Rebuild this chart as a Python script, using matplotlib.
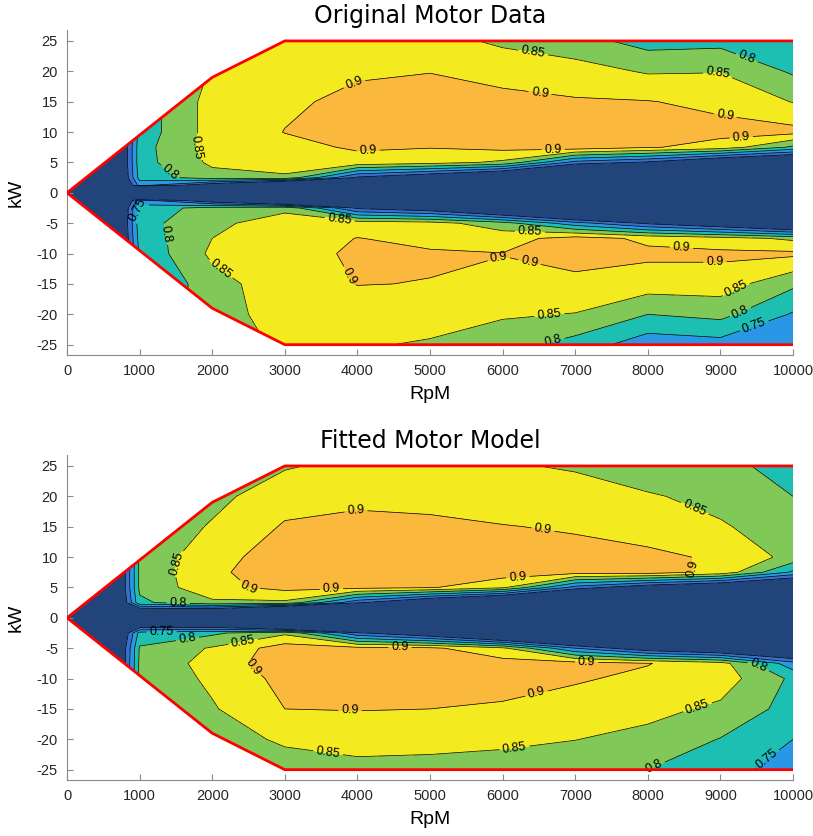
import numpy as np
import matplotlib
matplotlib.use("Agg")
import matplotlib.pyplot as plt
from matplotlib.patches import Polygon

plt.rcParams['font.family'] = ['Liberation Sans', 'DejaVu Sans']
plt.rcParams['axes.unicode_minus'] = False

# ---- grid ----------------------------------------------------------------
rpm = [0, 1000, 2000, 3000, 4000, 5000, 6000, 7000, 8000, 9000, 10000]
kw = [-25, -20, -15, -10, -7.5, -5, -2.5, -1.25, 0, 1.25, 2.5, 5, 7.5, 10, 15, 20, 25]

# efficiency tables: one row per kW level (bottom to top), one column per rpm
eff_measured = [
    [0, 0.74, 0.82, 0.86, 0.855, 0.845, 0.82, 0.78, 0.72, 0.73, 0.72],    # -25
    [0, 0.74, 0.83, 0.87, 0.88, 0.87, 0.856, 0.848, 0.80, 0.815, 0.745],  # -20
    [0, 0.74, 0.83, 0.88, 0.901, 0.899, 0.89, 0.89, 0.875, 0.875, 0.81], # -15
    [0, 0.76, 0.86, 0.885, 0.906, 0.904, 0.901, 0.915, 0.91, 0.91, 0.91], # -10
    [0, 0.77, 0.85, 0.88, 0.901, 0.89, 0.88, 0.92, 0.89, 0.87, 0.84],     # -7.5
    [0, 0.78, 0.84, 0.87, 0.88, 0.87, 0.82, 0.72, 0.64, 0.58, 0.50],      # -5
    [0, 0.77, 0.82, 0.84, 0.64, 0.60, 0.50, 0.40, 0.35, 0.30, 0.25],      # -2.5
    [0, 0.72, 0.60, 0.45, 0.35, 0.30, 0.25, 0.22, 0.20, 0.18, 0.15],      # -1.25
    [0, 0, 0, 0, 0, 0, 0, 0, 0, 0, 0],                                    # 0
    [0, 0.72, 0.60, 0.45, 0.35, 0.30, 0.25, 0.22, 0.20, 0.18, 0.15],      # 1.25
    [0, 0.77, 0.83, 0.84, 0.64, 0.58, 0.50, 0.40, 0.35, 0.30, 0.25],      # 2.5
    [0, 0.78, 0.86, 0.88, 0.885, 0.87, 0.84, 0.68, 0.64, 0.55, 0.50],     # 5
    [0, 0.78, 0.87, 0.888, 0.905, 0.902, 0.915, 0.93, 0.905, 0.88, 0.79], # 7.5
    [0, 0.77, 0.87, 0.901, 0.915, 0.915, 0.915, 0.915, 0.91, 0.915, 0.915], # 10
    [0, 0.77, 0.87, 0.893, 0.91, 0.915, 0.912, 0.905, 0.902, 0.888, 0.848], # 15
    [0, 0.77, 0.855, 0.88, 0.895, 0.899, 0.885, 0.87, 0.845, 0.848, 0.793], # 20
    [0, 0.77, 0.84, 0.87, 0.88, 0.87, 0.84, 0.82, 0.78, 0.785, 0.76],     # 25
]

eff_fitted = [
    [0, 0.80, 0.82, 0.835, 0.835, 0.835, 0.83, 0.82, 0.80, 0.775, 0.72],  # -25
    [0, 0.80, 0.835, 0.855, 0.87, 0.865, 0.86, 0.851, 0.835, 0.798, 0.75], # -20
    [0, 0.81, 0.845, 0.90, 0.902, 0.90, 0.895, 0.88, 0.865, 0.84, 0.78],  # -15
    [0, 0.81, 0.86, 0.915, 0.925, 0.92, 0.915, 0.905, 0.89, 0.875, 0.79], # -10
    [0, 0.81, 0.87, 0.93, 0.93, 0.925, 0.92, 0.92, 0.902, 0.87, 0.72],    # -7.5
    [0, 0.805, 0.855, 0.925, 0.915, 0.91, 0.86, 0.70, 0.60, 0.55, 0.50],  # -5
    [0, 0.77, 0.79, 0.84, 0.66, 0.58, 0.45, 0.38, 0.33, 0.30, 0.25],      # -2.5
    [0, 0.60, 0.60, 0.45, 0.35, 0.30, 0.25, 0.22, 0.20, 0.18, 0.15],      # -1.25
    [0, 0, 0, 0, 0, 0, 0, 0, 0, 0, 0],                                    # 0
    [0, 0.60, 0.60, 0.45, 0.35, 0.30, 0.25, 0.22, 0.20, 0.18, 0.15],      # 1.25
    [0, 0.79, 0.84, 0.84, 0.66, 0.55, 0.45, 0.38, 0.33, 0.30, 0.25],      # 2.5
    [0, 0.81, 0.885, 0.915, 0.915, 0.905, 0.86, 0.68, 0.60, 0.55, 0.50],  # 5
    [0, 0.81, 0.893, 0.92, 0.925, 0.925, 0.925, 0.92, 0.925, 0.885, 0.74], # 7.5
    [0, 0.81, 0.885, 0.92, 0.925, 0.925, 0.92, 0.915, 0.915, 0.89, 0.835], # 10
    [0, 0.81, 0.855, 0.905, 0.912, 0.91, 0.902, 0.895, 0.87, 0.855, 0.825], # 15
    [0, 0.80, 0.835, 0.88, 0.89, 0.885, 0.875, 0.87, 0.855, 0.835, 0.80], # 20
    [0, 0.80, 0.82, 0.845, 0.865, 0.86, 0.855, 0.845, 0.82, 0.815, 0.78], # 25
]

# operating envelope (upper half, mirrored for generating)
env_rpm = [0, 2000, 3000, 10000]
env_kw = [0, 19, 25, 25]

levels = [0.65, 0.70, 0.75, 0.80, 0.85, 0.90]
band_colors = ['#21457a', '#3a6fc9', '#2a97e6', '#1cbfb2',
               '#80c857', '#f3ea20', '#fab93c']
labelled_levels = [0.75, 0.80, 0.85, 0.90]

labels_measured = {
    0.90: [(3945, 18.3), (4150, 6.6), (6515, 16.4), (6700, 6.2), (9065, 12.7),
           (9290, 8.9), (3920, -13.5), (5940, -10.4), (6350, -12.5),
           (8466, -8.6), (8926, -10.9)],
    0.85: [(1580, 7.6), (6420, 23.2), (8970, 19.1), (2107, -12.7),
           (3760, -3.8), (6377, -6.0), (6653, -21.0), (9243, -16.5)],
    0.80: [(1281, 1.6), (9362, 22.2), (1327, -6.9), (6700, -24.5), (9270, -19.5)],
    0.75: [(1005, -2.8), (9450, -21.4)],
}

labels_fitted = {
    0.90: [(2452, 4.0), (3990, 16.9), (3646, 3.6), (6560, 14.9), (6217, 5.7),
           (8765, 8.3), (2497, -8.9), (4587, -4.2), (3898, -14.8),
           (7158, -6.9), (6470, -12.5)],
    0.85: [(1534, 8.9), (8627, 17.6), (2405, -2.6), (3600, -21.9),
           (6170, -21.9), (8673, -14.3)],
    0.80: [(1534, 3.1), (1671, -4.2), (9477, -8.9), (8076, -24.2)],
    0.75: [(1304, -4.0), (9660, -23.4)],
}


def fmt(v):
    return f'{v:g}'


def draw_map(ax, table, title, label_spots):
    X, Y = np.meshgrid(rpm, kw)
    Z = np.array(table, dtype=float)

    up_x = list(env_rpm)
    up_y = list(env_kw)
    outline = list(zip(up_x, up_y)) + list(zip(up_x[::-1], [-v for v in up_y[::-1]]))
    clip = Polygon(outline, closed=True, transform=ax.transData)

    cf = ax.contourf(X, Y, Z, levels=[-1.0] + levels + [2.0], colors=band_colors)
    cf.set_clip_path(clip)

    plain = [lv for lv in levels if lv not in labelled_levels]
    cs = ax.contour(X, Y, Z, levels=plain, colors='black', linewidths=0.5)
    cs.set_clip_path(clip)
    for lev in labelled_levels:
        cl = ax.contour(X, Y, Z, levels=[lev], colors='black', linewidths=0.5)
        cl.set_clip_path(clip)
        spots = label_spots.get(lev, [])
        if spots:
            ax.clabel(cl, inline=True, inline_spacing=3,
                      fontsize=9, fmt=fmt, manual=spots)

    ax.plot(up_x, up_y, color='#ff0000', lw=2.0, solid_capstyle='round', zorder=5)
    ax.plot(up_x, [-v for v in up_y], color='#ff0000', lw=2.0,
            solid_capstyle='round', zorder=5)

    ax.set_xlim(0, 10000)
    ax.set_ylim(-26.7, 26.8)
    ax.set_xticks(range(0, 10001, 1000))
    ax.set_yticks(range(-25, 26, 5))
    for side in ('top', 'right'):
        ax.spines[side].set_visible(False)
    for side in ('left', 'bottom'):
        ax.spines[side].set_color('#8a8a8a')
        ax.spines[side].set_linewidth(0.8)
    ax.tick_params(direction='in', length=4, width=0.8, color='#8a8a8a',
                   labelsize=10.5, labelcolor='#262626', pad=6.5)
    ax.set_title(title, fontsize=17, family='DejaVu Sans', pad=5)
    ax.set_xlabel('RpM', fontsize=14, labelpad=6)
    ax.set_ylabel('kW', fontsize=14, labelpad=9)


fig = plt.figure(figsize=(8.13, 8.36), dpi=100)
ax_top = fig.add_axes([67 / 813, 1 - 355 / 836, 726 / 813, 325 / 836])
ax_bot = fig.add_axes([67 / 813, 1 - 780 / 836, 726 / 813, 325 / 836])

draw_map(ax_top, eff_measured, 'Original Motor Data', labels_measured)
draw_map(ax_bot, eff_fitted, 'Fitted Motor Model', labels_fitted)

fig.savefig('out.png', dpi=100)
